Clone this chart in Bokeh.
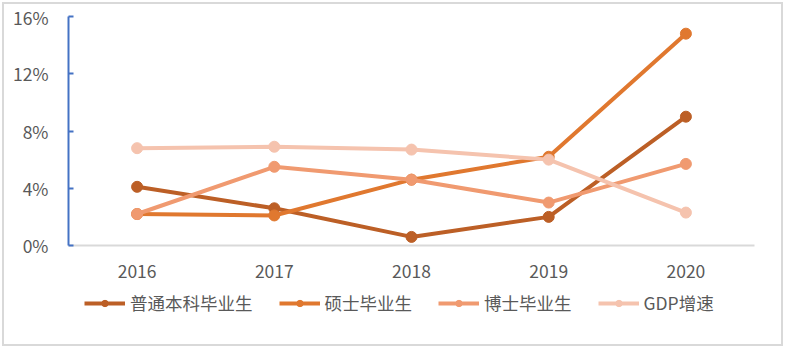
from bokeh.plotting import figure
from bokeh.layouts import column
from bokeh.models import FixedTicker, PrintfTickFormatter, Legend, LegendItem, Range1d
from bokeh.embed import file_html
from bokeh.resources import INLINE

years = ["2016", "2017", "2018", "2019", "2020"]
undergrad = [4.1, 2.6, 0.6, 2.0, 9.0]
master = [2.2, 2.1, 4.6, 6.2, 14.8]
phd = [2.2, 5.5, 4.6, 3.0, 5.7]
gdp = [6.8, 6.9, 6.7, 6.0, 2.3]
series_names = ["普通本科毕业生", "硕士毕业生", "博士毕业生", "GDP增速"]
y_ticks = [0, 4, 8, 12, 16]

colors = ["#BC5F26", "#E0782F", "#F09A70", "#F5C3AE"]
FONT = "Noto Sans CJK SC"
FS = "17.5px"

p = figure(x_range=years, y_range=(0, 16), width=777, height=285,
           output_backend="svg", toolbar_location=None,
           min_border_left=64, min_border_right=27, min_border_top=12,
           min_border_bottom=44)
p.outline_line_color = None
p.grid.grid_line_color = None
p.background_fill_color = "white"
p.border_fill_color = "white"

p.yaxis.ticker = FixedTicker(ticks=y_ticks)
p.yaxis.formatter = PrintfTickFormatter(format="%d%%")
p.yaxis.axis_line_color = "#4472C4"
p.yaxis.axis_line_width = 2
p.yaxis.major_tick_line_color = "#4472C4"
p.yaxis.major_tick_line_width = 2
p.yaxis.major_tick_in = 5
p.yaxis.major_tick_out = 0
p.yaxis.minor_tick_line_color = None
p.yaxis.major_label_text_font = FONT
p.yaxis.major_label_text_font_size = FS
p.yaxis.major_label_text_color = "#595959"
p.yaxis.major_label_standoff = 20

p.xaxis.axis_line_color = "#D9D9D9"
p.xaxis.axis_line_width = 2
p.xaxis.major_tick_line_color = None
p.xaxis.minor_tick_line_color = None
p.xaxis.major_label_text_font = FONT
p.xaxis.major_label_text_font_size = FS
p.xaxis.major_label_text_color = "#595959"
p.xaxis.major_label_standoff = 13

for vals, c in zip([undergrad, master, phd, gdp], colors):
    p.line(years, vals, line_color=c, line_width=4)
    p.scatter(years, vals, size=11, fill_color=c, line_color=c)

# legend strip (its own copies of the series, kept out of view)
lg = figure(x_range=years, y_range=Range1d(100, 101), width=777, height=55,
            output_backend="svg", toolbar_location=None,
            x_axis_location=None, y_axis_location=None,
            min_border=0, min_border_left=0, min_border_right=0,
            min_border_top=0, min_border_bottom=0)
lg.grid.grid_line_color = None
lg.outline_line_color = None
lg.border_fill_color = "white"
lg.background_fill_color = "white"
items = []
for name, vals, c in zip(series_names, [undergrad, master, phd, gdp], colors):
    l = lg.line(years, vals, line_color=c, line_width=4)
    s = lg.scatter(years, vals, size=11, fill_color=c, line_color=c)
    items.append(LegendItem(label=name, renderers=[l, s]))
legend = Legend(items=items, orientation="horizontal", location=(16, 29),
                label_text_font=FONT, label_text_font_size=FS,
                label_text_color="#595959", glyph_width=41, glyph_height=16,
                label_standoff=5, spacing=26, border_line_color=None,
                background_fill_alpha=0, padding=0, margin=0)
lg.add_layout(legend, "center")

layout = column(p, lg, spacing=0)
layout.margin = (2, 0, 0, 2)
layout.styles = {"border": "2px solid #D9D9D9", "background-color": "white"}

open("out.html", "w").write(file_html(layout, INLINE))
